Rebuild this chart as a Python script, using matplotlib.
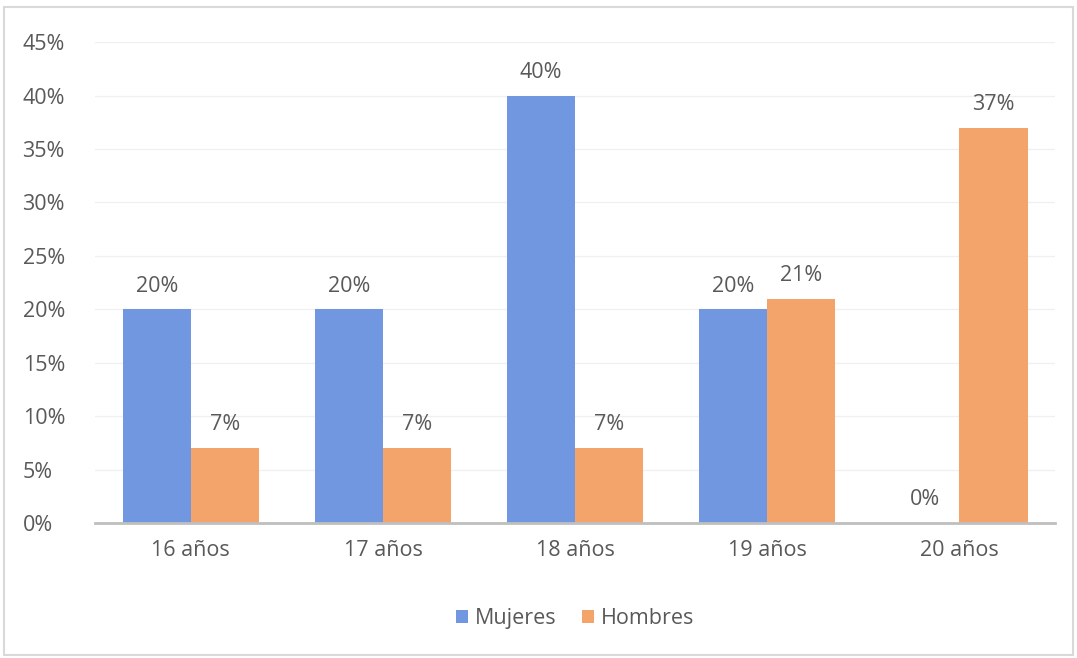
import numpy as np
import matplotlib.pyplot as plt
from matplotlib.patches import Rectangle

# Data
categories = ['16 años', '17 años', '18 años', '19 años', '20 años']
mujeres = [20, 20, 40, 20, 0]
hombres = [7, 7, 7, 21, 37]

plt.rcParams['font.family'] = ['Open Sans', 'DejaVu Sans']

fig = plt.figure(figsize=(10.77, 6.58), dpi=100)
ax = fig.add_axes([0.088, 0.205, 0.892, 0.731])

x = np.arange(len(categories))
w = 0.355
blue = '#7097df'
orange = '#f3a46b'
txt = '#595959'
fs = 15.5

b1 = ax.bar(x - w/2, mujeres, w, color=blue, label='Mujeres', zorder=3)
b2 = ax.bar(x + w/2, hombres, w, color=orange, label='Hombres', zorder=3)

for bars, vals in ((b1, mujeres), (b2, hombres)):
    for r, v in zip(bars, vals):
        ax.text(r.get_x() + r.get_width()/2, v + 1.2, f'{v}%', ha='center', va='bottom',
                fontsize=fs, color=txt)

ax.set_ylim(0, 45)
ax.set_xlim(-0.5, 4.5)
ax.set_yticks(np.arange(0, 46, 5))
ax.set_yticklabels([f'{t}%' for t in range(0, 46, 5)], ha='left')
ax.set_xticks(x)
ax.set_xticklabels(categories)
ax.tick_params(axis='both', length=0, labelsize=fs, colors=txt)
ax.tick_params(axis='x', pad=12)
ax.tick_params(axis='y', pad=52)
ax.yaxis.grid(True, color='#f0f0f0', linewidth=1, zorder=0)
for s in ['top', 'right', 'left']:
    ax.spines[s].set_visible(False)
ax.spines['bottom'].set_color('#bfbfbf')
ax.spines['bottom'].set_linewidth(2)
ax.spines['bottom'].set_zorder(4)

ax.legend(loc='lower center', bbox_to_anchor=(0.5, -0.26), ncol=2, frameon=False,
          fontsize=fs, labelcolor=txt, handlelength=0.55, handleheight=0.55,
          handletextpad=0.3, columnspacing=1.2)

fig.patches.append(Rectangle((0.004, 0.004), 0.992, 0.985, transform=fig.transFigure,
                             fill=False, edgecolor='#d9d9d9', linewidth=1.5))

fig.savefig('out.png', dpi=100)
